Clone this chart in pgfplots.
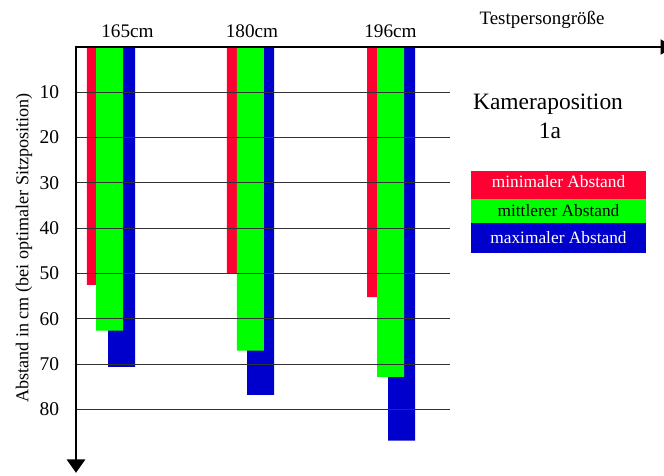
\documentclass[border=0pt]{standalone}
\usepackage{fontspec}
\setmainfont{Liberation Serif}
\usepackage{pgfplots}
\pgfplotsset{compat=1.18}
\usetikzlibrary{arrows.meta}
\definecolor{cred}{HTML}{FF0033}
\definecolor{cgreen}{HTML}{00FF00}
\definecolor{cblue}{HTML}{0000CC}
\begin{document}
\begin{tikzpicture}
\begin{axis}[
  width=498pt, height=356.25pt, scale only axis,
  xmin=0, xmax=664, ymin=-10.375, ymax=94.48,
  y dir=reverse,
  enlargelimits=false,
  clip=false,
  axis line style={draw=none},
  tick style={draw=none},
  ytick={10,20,...,80},
  yticklabel style={anchor=east, inner sep=0pt, xshift=44.5pt, font=\fontsize{14.6}{17}\selectfont},
  xtick={127.5,252,390.5},
  xticklabels={165cm,180cm,196cm},
  xticklabel style={anchor=base, inner sep=0pt, yshift=328.3pt, font=\fontsize{14.4}{17}\selectfont},
  /pgf/number format/assume math mode=true,
]
\path (axis cs:0,-10.375) rectangle (axis cs:664,94.48);
% bars
\addplot[ybar, bar width=27, bar shift=0pt, fill=cred, draw=none] coordinates {(100.3,52.5) (240.3,50) (380.5,55.2)};
\addplot[ybar, bar width=27, bar shift=0pt, fill=cblue, draw=none] coordinates {(121.5,70.6) (260.5,76.8) (401.5,86.9)};
\addplot[ybar, bar width=27, bar shift=0pt, fill=cgreen, draw=none] coordinates {(109.5,62.6) (250.3,67) (390.7,72.8)};
% grid lines
\pgfplotsinvokeforeach{10,20,30,40,50,60,70,80}{
  \draw[black!80, line width=0.7pt] (axis cs:76,#1) -- (axis cs:450,#1);
}
% axis lines
\draw[line width=2pt, -{Triangle[width=13.5pt,length=10pt]}] (axis cs:76,-0.3) -- (axis cs:76,94);
\draw[overlay, line width=2pt, -{Triangle[width=11pt,length=10pt]}] (axis cs:75,0) -- (axis cs:674,0);
% texts
\node[anchor=base, inner sep=0pt, font=\fontsize{14.2}{17}\selectfont] at (axis cs:542,-4.86) {Testpersongröße};
\node[anchor=base, inner sep=0pt, font=\fontsize{17.6}{21}\selectfont] at (axis cs:548,13.75) {Kameraposition};
\node[anchor=base, inner sep=0pt, font=\fontsize{17.6}{21}\selectfont] at (axis cs:550,20.15) {1a};
\node[rotate=90, inner sep=0pt, font=\fontsize{13.6}{16}\selectfont] at (axis cs:24,44.37) {Abstand in cm (bei optimaler Sitzposition)};
% legend
\fill[cred] (axis cs:471,27.37) rectangle (axis cs:646,33.55);
\fill[cgreen] (axis cs:471,33.55) rectangle (axis cs:646,38.85);
\fill[cblue] (axis cs:471,38.85) rectangle (axis cs:646,45.47);
\node[anchor=base, inner sep=0pt, text=white, font=\fontsize{13}{15}\selectfont] at (axis cs:558.5,30.97) {minimaler Abstand};
\node[anchor=base, inner sep=0pt, text=black, font=\fontsize{13}{15}\selectfont] at (axis cs:558.5,37.46) {mittlerer Abstand};
\node[anchor=base, inner sep=0pt, text=white, font=\fontsize{13}{15}\selectfont] at (axis cs:558.5,43.33) {maximaler Abstand};
\end{axis}
\end{tikzpicture}
\end{document}
